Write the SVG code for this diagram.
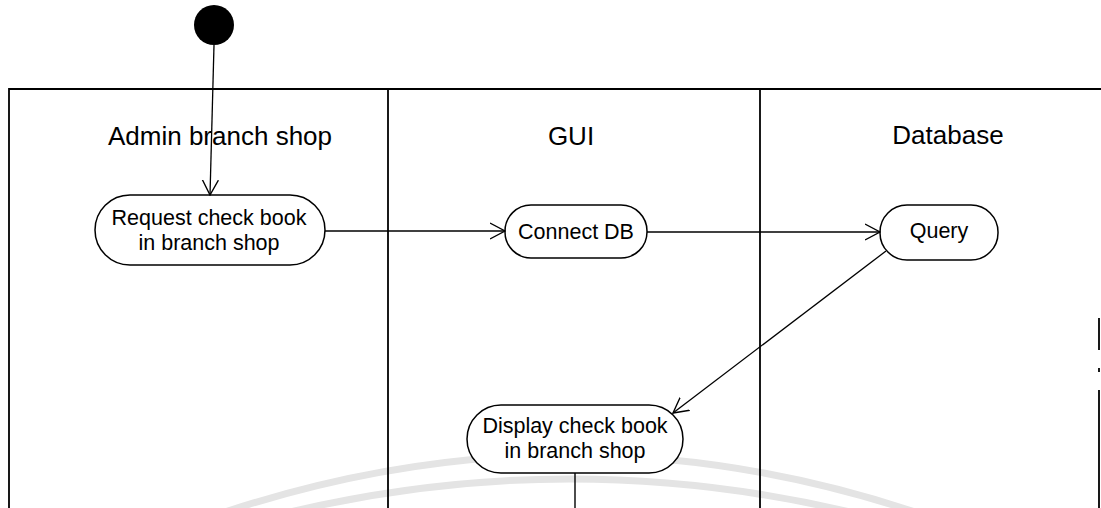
<svg xmlns="http://www.w3.org/2000/svg" width="1101" height="508" viewBox="0 0 1101 508">
<style>
.lane{stroke:#000;stroke-width:1.8;fill:none}
.node rect{fill:#fff;stroke:#000;stroke-width:1.5}
.node text, .title{font-family:"Liberation Sans",Arial,sans-serif;fill:#000;text-anchor:middle}
.node text{font-size:21.5px}
.title{font-size:26px}
.conn{stroke:#000;stroke-width:1.3;fill:none;marker-end:url(#arr)}
.wm{stroke:#e4e4e4;stroke-width:7;fill:none}
</style>
<defs>
<marker id="arr" viewBox="0 0 16 18" refX="15" refY="9" markerWidth="16" markerHeight="18" markerUnits="userSpaceOnUse" orient="auto">
<path d="M0,1 L15,9 L0,17" fill="none" stroke="#000" stroke-width="1.4"/>
</marker>
</defs>
<rect width="1101" height="508" fill="#fff"/>
<g id="watermark">
<path class="wm" d="M225 512 Q570 398 915 512"/>
<path class="wm" d="M290 512 Q570 446 850 512"/>
</g>
<g id="swimlanes">
<path class="lane" d="M9 508 V89 H1101"/>
<path class="lane" d="M388 89 V508"/>
<path class="lane" d="M760 89 V508"/>
<path class="lane" d="M1099 318 V350 M1099 368 V372 M1099 390 V508"/>
<text class="title" x="220" y="145">Admin branch shop</text>
<text class="title" x="571" y="145">GUI</text>
<text class="title" x="948" y="144">Database</text>
</g>
<g id="start">
<circle cx="214" cy="25" r="20" fill="#000"/>
</g>
<g id="request" class="node">
<rect x="95" y="195" width="230" height="70" rx="35"/>
<text x="209" y="225">Request check book</text>
<text x="209" y="250">in branch shop</text>
</g>
<g id="connectdb" class="node">
<rect x="505" y="205" width="142" height="53" rx="26"/>
<text x="576" y="239">Connect DB</text>
</g>
<g id="query" class="node">
<rect x="880" y="205" width="118" height="55" rx="27"/>
<text x="939" y="238">Query</text>
</g>
<g id="display" class="node">
<rect x="467" y="405" width="216" height="68" rx="34"/>
<text x="575" y="433">Display check book</text>
<text x="575" y="458">in branch shop</text>
</g>
<g id="connectors">
<path class="conn" d="M214 45 L210 195"/>
<path class="conn" d="M325 231 H505"/>
<path class="conn" d="M647 232 H880"/>
<path class="conn" d="M886 251 L673 413"/>
<path d="M575 473 V508" stroke="#000" stroke-width="1.4" fill="none"/>
</g>
</svg>
